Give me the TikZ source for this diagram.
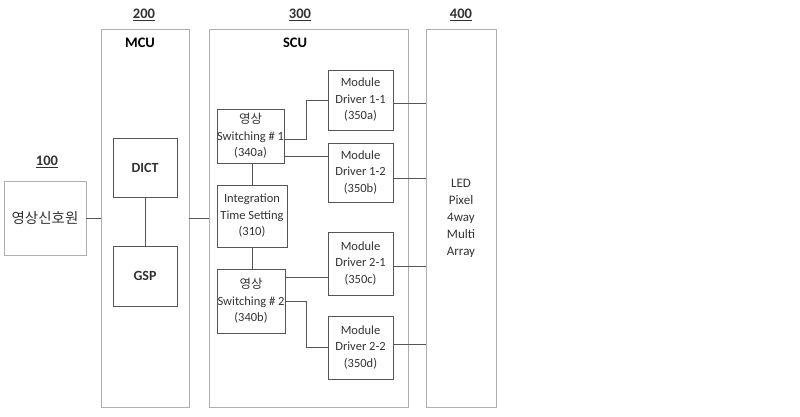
\documentclass[tikz,border=0pt]{standalone}
\usepackage{fontspec}
\setmainfont{Carlito}
\newfontfamily\kofont{Noto Sans CJK KR}
\usetikzlibrary{positioning}
\definecolor{Frame-Gray}{RGB}{175,175,175}
\definecolor{Box-Gray}{RGB}{85,85,85}
\definecolor{Text-Gray}{RGB}{50,50,50}

\begin{document}
\begin{tikzpicture}[x=1pt, y=-1pt]
    \tikzset{ frm/.style ={draw=Frame-Gray, line width=0.9pt, inner sep=0pt} }
    \tikzset{ blk/.style ={draw=Box-Gray, line width=0.8pt, inner sep=0pt, align=center, text=Text-Gray, font=\fontsize{12.5}{16.5}\selectfont} }
    \tikzset{ num/.style ={text=Text-Gray, font=\fontsize{14.5}{16}\selectfont\bfseries} }
    \tikzset{ ttl/.style ={text=black, font=\fontsize{14.5}{16}\selectfont\bfseries} }
    \tikzset{ wire/.style={draw=Box-Gray, line width=0.8pt} }

    \useasboundingbox (0,0) rectangle (800,416);

    % outer units
    \node[frm, minimum width=82pt, minimum height=74pt ] (src) at ( 45.0,218.0) {};
    \node[frm, minimum width=88pt, minimum height=378pt] (mcu) at (145.0,218.0) {};
    \node[frm, minimum width=199pt,minimum height=378pt] (scu) at (308.5,218.0) {};
    \node[frm, minimum width=70pt, minimum height=378pt] (led) at (461.0,218.0) {};

    \node[text=Text-Gray, font=\fontsize{14.5}{16}\selectfont\kofont] at (src.center) {영상신호원};
    \node[blk, draw=none, font=\fontsize{13}{17}\selectfont] at (led.center) {LED\\Pixel\\4way\\Multi\\Array};

    \node[num] (n100) at ( 47,162) {\underline{100}};
    \node[num] (n200) at (144, 15) {\underline{200}};
    \node[num] (n300) at (300, 15) {\underline{300}};
    \node[num] (n400) at (461, 15) {\underline{400}};
    \node[ttl] (t200) at (140, 43) {MCU};
    \node[ttl] (t300) at (295, 43) {SCU};

    % MCU blocks
    \node[blk, minimum width=64pt, minimum height=59pt, font=\fontsize{14}{16}\selectfont\bfseries] (dict) at (145.0,167.5) {DICT};
    \node[blk, minimum width=64pt, minimum height=60pt, font=\fontsize{14}{16}\selectfont\bfseries] (gsp)  at (145.0,276.0) {GSP};

    % SCU blocks
    \node[blk, minimum width=67pt, minimum height=54pt] (sw1) at (250.5,136.0) {{\kofont\fontsize{12.5}{16.5}\selectfont 영상}\\Switching \# 1\\(340a)};
    \node[blk, minimum width=70pt, minimum height=62pt] (its) at (252.0,216.0) {Integration\\Time Setting\\(310)};
    \node[blk, minimum width=68pt, minimum height=64pt] (sw2) at (251.0,301.0) {{\kofont\fontsize{12.5}{16.5}\selectfont 영상}\\Switching \# 2\\(340b)};
    \node[blk, minimum width=65pt, minimum height=60pt] (md1) at (360.5,100.0) {Module\\Driver 1-1\\(350a)};
    \node[blk, minimum width=65pt, minimum height=59pt] (md2) at (360.5,172.5) {Module\\Driver 1-2\\(350b)};
    \node[blk, minimum width=65pt, minimum height=63pt] (md3) at (360.5,263.5) {Module\\Driver 2-1\\(350c)};
    \node[blk, minimum width=65pt, minimum height=63pt] (md4) at (360.5,347.5) {Module\\Driver 2-2\\(350d)};

    % connectors
    \draw[wire] (src.east) -- (mcu.west);
    \draw[wire] (mcu.east) -- (mcu.east -| scu.west);
    \draw[wire] (dict.south) -- (gsp.north);
    \draw[wire] (sw1.south -| its.north) -- (its.north);
    \draw[wire] (its.south) -- (sw2.north -| its.south);
    \draw[wire] ([yshift=-3pt]sw1.east) -- ++(21.5,0) |- (md1.west);
    \draw[wire] ([yshift=-20pt]sw1.east) -- ([yshift=-20pt]sw1.east -| md2.west);
    \draw[wire] ([yshift=24pt]sw2.east) -- ([yshift=24pt]sw2.east -| md3.west);
    \draw[wire] (sw2.east) -- ++(21,0) |- (md4.west);
    \draw[wire] ([yshift=-3pt]md1.east) -- ([yshift=-3pt]md1.east -| led.west);
    \draw[wire] ([yshift=-5.5pt]md2.east) -- ([yshift=-5.5pt]md2.east -| led.west);
    \draw[wire] ([yshift=-2.5pt]md3.east) -- ([yshift=-2.5pt]md3.east -| led.west);
    \draw[wire] ([yshift=3.5pt]md4.east) -- ([yshift=3.5pt]md4.east -| led.west);
\end{tikzpicture}
\end{document}
